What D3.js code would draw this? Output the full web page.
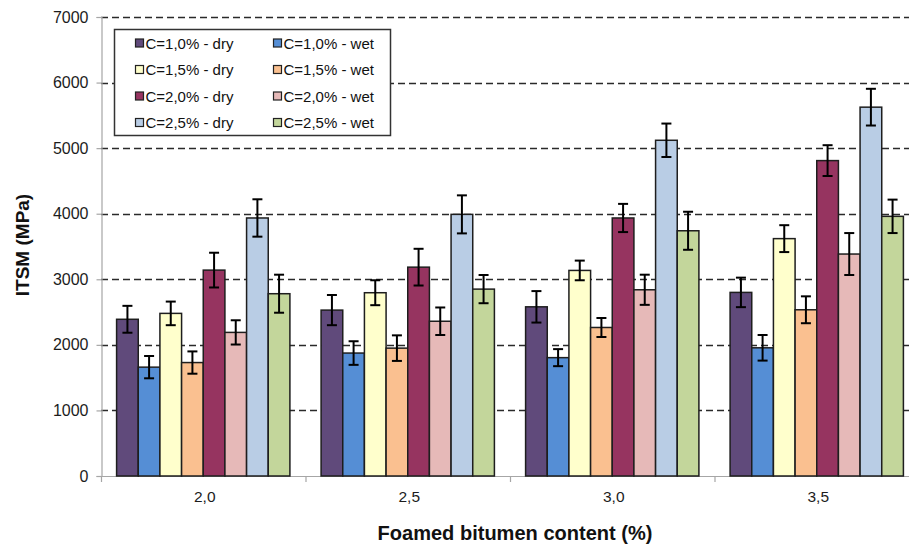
<!DOCTYPE html>
<html>
<head>
<meta charset="utf-8">
<script src="https://cdn.jsdelivr.net/npm/d3@7"></script>
<style>
  html, body { margin: 0; padding: 0; background: #fff; }
  svg { display: block; font-family: "Liberation Sans", Arial, sans-serif; }
</style>
</head>
<body>
<svg id="chart" width="909" height="544"></svg>
<script>
// Foamed bitumen content categories (x axis)
const categories = ["2,0", "2,5", "3,0", "3,5"];

// Series labels, in bar order within each group
const seriesLabels = [
  "C=1,0% - dry", "C=1,0% - wet",
  "C=1,5% - dry", "C=1,5% - wet",
  "C=2,0% - dry", "C=2,0% - wet",
  "C=2,5% - dry", "C=2,5% - wet"
];

// Mean ITSM values (MPa) per series, one per category
const c10Dry = [2390, 2530, 2580, 2800];
const c10Wet = [1660, 1875, 1805, 1955];
const c15Dry = [2480, 2795, 3135, 3620];
const c15Wet = [1730, 1950, 2265, 2535];
const c20Dry = [3140, 3185, 3935, 4810];
const c20Wet = [2190, 2360, 2840, 3385];
const c25Dry = [3935, 3990, 5120, 5625];
const c25Wet = [2780, 2850, 3740, 3960];

// Error bar half-widths (MPa)
const c10DryErr = [205, 230, 240, 225];
const c10WetErr = [170, 180, 130, 195];
const c15DryErr = [180, 190, 150, 205];
const c15WetErr = [170, 195, 145, 205];
const c20DryErr = [265, 280, 215, 235];
const c20WetErr = [185, 210, 230, 320];
const c25DryErr = [285, 290, 255, 280];
const c25WetErr = [290, 215, 290, 255];

// Y axis ticks
const yTicks = [0, 1000, 2000, 3000, 4000, 5000, 6000, 7000];

const seriesColors = [
  "#604a7b", "#558ed5",
  "#ffffcc", "#fac090",
  "#963460", "#e6b9b8",
  "#b9cde5", "#c3d69b"
];

const values = [c10Dry, c10Wet, c15Dry, c15Wet, c20Dry, c20Wet, c25Dry, c25Wet];
const errors = [c10DryErr, c10WetErr, c15DryErr, c15WetErr, c20DryErr, c20WetErr, c25DryErr, c25WetErr];

const svg = d3.select("#chart");

const plot = { left: 101, right: 919, top: 17, bottom: 476 };

const y = d3.scaleLinear().domain([0, 7000]).range([plot.bottom, plot.top]);

const x0 = d3.scaleBand()
  .domain(categories)
  .range([plot.left, plot.right])
  .paddingInner(0).paddingOuter(0);

const x1 = d3.scaleBand()
  .domain(d3.range(seriesLabels.length))
  .range([0, x0.bandwidth()])
  .paddingInner(0).paddingOuter(0.72);

// Dashed horizontal gridlines
svg.append("g")
  .selectAll("line")
  .data(yTicks.filter(t => t > 0))
  .join("line")
  .attr("x1", plot.left)
  .attr("x2", 909)
  .attr("y1", d => Math.round(y(d)) + 0.5)
  .attr("y2", d => Math.round(y(d)) + 0.5)
  .attr("stroke", "#2a2a2a")
  .attr("stroke-width", 1.6)
  .attr("stroke-dasharray", "7,4");

// Y axis
const yAxis = d3.axisLeft(y).tickValues(yTicks).tickSize(5).tickPadding(8).tickFormat(d3.format("d"));
const gy = svg.append("g")
  .attr("transform", `translate(${plot.left + 0.5},0)`)
  .call(yAxis);
gy.select(".domain").attr("stroke", "#a6a6a6").attr("stroke-width", 1.2);
gy.selectAll(".tick line").attr("stroke", "#a6a6a6").attr("stroke-width", 1.2);
gy.selectAll(".tick text")
  .attr("fill", "#1c1c1c")
  .style("font-size", "16px")
  .style("font-family", "'Liberation Sans', Arial, sans-serif");

// X axis: ticks at category boundaries
const boundaries = categories.map(c => x0(c));
svg.append("line")
  .attr("x1", plot.left).attr("x2", 909)
  .attr("y1", plot.bottom + 0.5).attr("y2", plot.bottom + 0.5)
  .attr("stroke", "#a6a6a6").attr("stroke-width", 1.2);
svg.append("g")
  .selectAll("line")
  .data(boundaries)
  .join("line")
  .attr("x1", d => d + 0.5).attr("x2", d => d + 0.5)
  .attr("y1", plot.bottom).attr("y2", plot.bottom + 6)
  .attr("stroke", "#a6a6a6").attr("stroke-width", 1.2);

svg.append("g")
  .selectAll("text")
  .data(categories)
  .join("text")
  .attr("x", d => x0(d) + x0.bandwidth() / 2 + 1.5)
  .attr("y", 502)
  .attr("text-anchor", "middle")
  .attr("fill", "#1c1c1c")
  .style("font-size", "15.5px")
  .text(d => d);

// Bars
const groups = svg.append("g")
  .selectAll("g")
  .data(categories)
  .join("g")
  .attr("transform", d => `translate(${x0(d)},0)`);

groups.selectAll("rect")
  .data((c, ci) => values.map((s, si) => ({ si, v: s[ci], e: errors[si][ci] })))
  .join("rect")
  .attr("x", d => x1(d.si))
  .attr("width", x1.bandwidth())
  .attr("y", d => y(d.v))
  .attr("height", d => y(0) - y(d.v))
  .attr("fill", d => seriesColors[d.si])
  .attr("stroke", "#1e1e1e")
  .attr("stroke-width", 1.5);

// Error bars
const eb = groups.selectAll("g.err")
  .data((c, ci) => values.map((s, si) => ({ si, v: s[ci], e: errors[si][ci] })))
  .join("g")
  .attr("class", "err")
  .attr("transform", d => `translate(${x1(d.si) + x1.bandwidth() / 2},0)`)
  .attr("stroke", "#000")
  .attr("stroke-width", 2);
eb.append("line").attr("x1", 0).attr("x2", 0)
  .attr("y1", d => y(d.v + d.e)).attr("y2", d => y(d.v - d.e));
eb.append("line").attr("x1", -5).attr("x2", 5)
  .attr("y1", d => y(d.v + d.e)).attr("y2", d => y(d.v + d.e));
eb.append("line").attr("x1", -5).attr("x2", 5)
  .attr("y1", d => y(d.v - d.e)).attr("y2", d => y(d.v - d.e));

// Legend
const legend = svg.append("g");
legend.append("rect")
  .attr("x", 114.5).attr("y", 29.5)
  .attr("width", 276).attr("height", 106)
  .attr("fill", "#fff")
  .attr("stroke", "#333")
  .attr("stroke-width", 1.5);

const legendItems = legend.selectAll("g.item")
  .data(seriesLabels)
  .join("g")
  .attr("class", "item")
  .attr("transform", (d, i) => `translate(${i % 2 === 0 ? 135 : 273},${43 + Math.floor(i / 2) * 26.5})`);
legendItems.append("rect")
  .attr("x", 0.5).attr("y", -4)
  .attr("width", 8).attr("height", 8)
  .attr("fill", (d, i) => seriesColors[i])
  .attr("stroke", "#222").attr("stroke-width", 1.2);
legendItems.append("text")
  .attr("x", 10.5).attr("y", 5.5)
  .attr("fill", "#111")
  .style("font-size", "15px")
  .text(d => d);

// Axis titles
svg.append("text")
  .attr("x", 515)
  .attr("y", 540)
  .attr("text-anchor", "middle")
  .attr("fill", "#111")
  .style("font-size", "19.5px")
  .style("font-weight", "bold")
  .attr("textLength", 275)
  .attr("lengthAdjust", "spacingAndGlyphs")
  .text("Foamed bitumen content (%)");

svg.append("text")
  .attr("transform", "translate(29,245) rotate(-90)")
  .attr("text-anchor", "middle")
  .attr("fill", "#111")
  .style("font-size", "19px")
  .style("font-weight", "bold")
  .text("ITSM (MPa)");
</script>
</body>
</html>
